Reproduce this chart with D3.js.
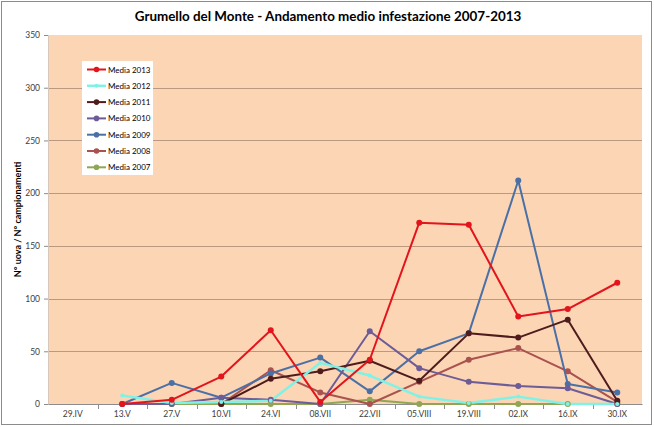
<!DOCTYPE html>
<html>
<head>
<meta charset="utf-8">
<script src="https://cdn.jsdelivr.net/npm/d3@7"></script>
<style>
  body { margin: 0; background: #fff; }
  text { font-family: Lato, "Open Sans", sans-serif; }
</style>
</head>
<body>
<div id="plot"></div>
<script>
// categories (sampling dates)
var dates = ["29.IV", "13.V", "27.V", "10.VI", "24.VI", "08.VII", "22.VII",
             "05.VIII", "19.VIII", "02.IX", "16.IX", "30.IX"];

// series values (null = no sample)
var media2013 = [null, 0, 4, 26, 70, 2, 42, 172, 170, 83, 90, 115];
var media2012 = [null, 8, 1, 2, 3, 39, 27, 7, 1, 7, 0, 0];
var media2011 = [null, null, null, 0, 24, 31, 41, 22, 67, 63, 80, 3];
var media2010 = [null, 0, 0, 6, 4, 0, 69, 34, 21, 17, 15, 0];
var media2009 = [null, 0, 20, 6, 29, 44, 12, 50, 67, 212, 19, 11];
var media2008 = [null, null, null, 0, 32, 11, 0, 21, 42, 53, 31, 2];
var media2007 = [null, null, 0, 0, 0, 0, 4, 0, 0, 0, 0, 0];

var seriesNames = ["Media 2013", "Media 2012", "Media 2011", "Media 2010",
                   "Media 2009", "Media 2008", "Media 2007"];
var yTicks = [0, 50, 100, 150, 200, 250, 300, 350];

var series = [
  {name: seriesNames[0], values: media2013, color: "#e3141b", marker: true, w: 2},
  {name: seriesNames[1], values: media2012, color: "#7ff2e6", marker: false, w: 2.5},
  {name: seriesNames[2], values: media2011, color: "#4e1c1c", marker: true, w: 2},
  {name: seriesNames[3], values: media2010, color: "#6d5c96", marker: true, w: 2},
  {name: seriesNames[4], values: media2009, color: "#4a70a6", marker: true, w: 2},
  {name: seriesNames[5], values: media2008, color: "#aa524e", marker: true, w: 2},
  {name: seriesNames[6], values: media2007, color: "#8fa654", marker: true, w: 2}
];

/*------------------------------------------*/
/*            Layout                        */
/*------------------------------------------*/

var W = 654, H = 427;
var margin = {top: 35, right: 12, bottom: 23, left: 48};
var width = W - margin.left - margin.right,
    height = 404 - margin.top;

var svg = d3.select("#plot").append("svg")
    .attr("width", W)
    .attr("height", H);

// outer frame
svg.append("rect")
    .attr("x", 1.5).attr("y", 1.5)
    .attr("width", W - 4).attr("height", H - 4)
    .style("fill", "#fff")
    .style("stroke", "#8c8c8c");

// title
var title = svg.append("text")
    .attr("x", 328).attr("y", 21)
    .attr("text-anchor", "middle")
    .style("font-weight", "bold")
    .style("font-size", "14px")
    .style("fill", "#000")
    .text("Grumello del Monte - Andamento medio infestazione 2007-2013");
var tl = title.node().getComputedTextLength();
title.style("font-size", (14 * 387 / tl) + "px");

var chart = svg.append("g")
    .attr("transform", "translate(" + margin.left + "," + margin.top + ")");

var x = d3.scaleBand().domain(dates).range([0, width]);
var y = d3.scaleLinear().domain([0, 350]).range([height, 0]);

// plot background
chart.append("rect")
    .attr("width", width).attr("height", height)
    .style("fill", "#fcd5b5");

// gridlines
chart.selectAll(".grid")
    .data(yTicks.filter(function(d) { return d > 0 && d < 350; }))
    .enter().append("line")
    .attr("x1", 0).attr("x2", width)
    .attr("y1", function(d) { return Math.round(y(d)) + 0.5; })
    .attr("y2", function(d) { return Math.round(y(d)) + 0.5; })
    .style("stroke", "#b99a80")
    .style("stroke-width", 1);

// y axis
var yAxis = chart.append("g")
    .call(d3.axisLeft(y).tickValues(yTicks).tickSize(4).tickPadding(4));
yAxis.select(".domain").style("stroke", "#d8c8bc");
yAxis.selectAll(".tick line").style("stroke", "#8c8c8c");
yAxis.selectAll("text")
    .style("font-size", "8.5px")
    .style("fill", "#404040")
    .style("font-family", "Lato, sans-serif");

// x axis
var xAxis = chart.append("g")
    .attr("transform", "translate(0," + height + ")")
    .call(d3.axisBottom(x).tickSize(0).tickPadding(7));
xAxis.select(".domain").style("stroke", "#8c8c8c");
xAxis.selectAll("text")
    .style("font-size", "8.5px")
    .style("fill", "#404040")
    .style("font-family", "Lato, sans-serif");
// tick marks between categories
xAxis.selectAll(".sep")
    .data(dates.slice(1))
    .enter().append("line")
    .attr("x1", function(d) { return Math.round(x(d)) + 0.5; })
    .attr("x2", function(d) { return Math.round(x(d)) + 0.5; })
    .attr("y1", 0).attr("y2", 5)
    .style("stroke", "#8c8c8c");

// y axis title
svg.append("text")
    .attr("transform", "translate(21," + (margin.top + height / 2) + ") rotate(-90)")
    .attr("text-anchor", "middle")
    .style("font-weight", "bold")
    .style("font-size", "9px")
    .style("fill", "#000")
    .text("N° uova / N° campionamenti");

// lines
var cx = function(i) { return x(dates[i]) + x.bandwidth() / 2; };
var line = d3.line()
    .defined(function(d) { return d !== null; })
    .x(function(d, i) { return cx(i); })
    .y(function(d) { return y(d); });

var drawOrder = series.slice().reverse();

chart.selectAll(".series")
    .data(drawOrder)
    .enter().append("path")
    .attr("class", "series")
    .attr("d", function(s) { return line(s.values); })
    .style("fill", "none")
    .style("stroke", function(s) { return s.color; })
    .style("stroke-width", function(s) { return s.w; })
    .style("stroke-linejoin", "round");

drawOrder.forEach(function(s) {
  chart.selectAll(null)
    .data(s.values.map(function(v, i) { return {v: v, i: i}; })
      .filter(function(d) { return d.v !== null; }))
    .enter().append("circle")
    .attr("cx", function(d) { return cx(d.i); })
    .attr("cy", function(d) { return y(d.v); })
    .attr("r", s.marker ? 3 : 2)
    .style("fill", s.color);
});

/*------------------------------------------*/
/*            Legend                        */
/*------------------------------------------*/

var legend = svg.append("g").attr("transform", "translate(82,61)");
legend.append("rect")
    .attr("width", 71).attr("height", 114)
    .style("fill", "#fff");

var item = legend.selectAll(".item")
    .data(series)
    .enter().append("g")
    .attr("transform", function(d, i) { return "translate(0," + (8.5 + i * 16.3) + ")"; });
item.append("line")
    .attr("x1", 5).attr("x2", 24)
    .style("stroke", function(d) { return d.color; })
    .style("stroke-width", function(d) { return d.w; });
item.append("circle")
    .attr("cx", 14.5)
    .attr("r", function(d) { return d.marker ? 2.8 : 2; })
    .style("fill", function(d) { return d.color; });
item.append("text")
    .attr("x", 26).attr("y", 3)
    .style("font-size", "8px")
    .style("fill", "#000")
    .text(function(d) { return d.name; });
</script>
</body>
</html>
